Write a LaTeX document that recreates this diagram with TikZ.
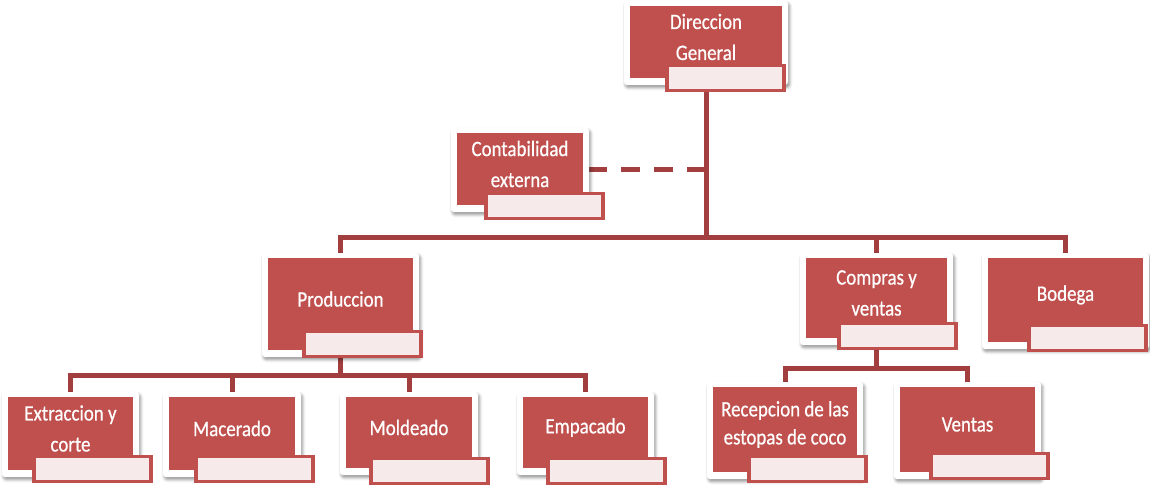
\documentclass[tikz,border=0pt]{standalone}
\usepackage{fontspec}
\setmainfont{Carlito}[FakeStretch=0.86, FakeBold=0.6]
\usetikzlibrary{shadows.blur,backgrounds}
\definecolor{boxred}{HTML}{C0504D}
\definecolor{linered}{HTML}{A23E3E}
\definecolor{labfill}{HTML}{F7EAEA}
\tikzset{
  frame/.style={fill=white, rounded corners=3pt,
    blur shadow={shadow xshift=1.5pt, shadow yshift=-2.5pt, shadow blur radius=3pt, shadow opacity=45}},
  redbox/.style={fill=boxred, inner sep=0pt, draw=none},
  labbox/.style={draw=boxred, line width=3.5pt, fill=labfill, inner sep=0pt},
  txt/.style={text=white, font=\fontsize{22}{31}\selectfont, align=center, inner sep=0pt},
  smalltxt/.style={font=\fontsize{22}{28}\selectfont},
  conn/.style={draw=linered, line width=5pt},
  dashconn/.style={draw=linered, line width=5pt, dash pattern=on 19pt off 14pt},
}
% [#1 text opts], #2 name, #3 x1, #4 y1, #5 x2, #6 y2 (red box), #7 label right, #8 label bottom, #9 text
\newcommand\orgunit[9][]{%
  \path[frame] ({#3-6},{#4-5}) rectangle ({#5+6},{#6+7});
  \node[redbox, minimum width={#5-#3}, minimum height={#6-#4}] (#2) at ({(#3+#5)/2},{(#4+#6)/2}) {};
  \node[labbox, minimum width=117, minimum height=25] (#2-l) at ({#7-60.5},{#8-14}) {};
  \node[txt,#1] (#2-t) at ([yshift=5pt]#2.center) {#9};
}
\begin{document}
\begin{tikzpicture}[x=1pt,y=-1pt]
\useasboundingbox (0,0) rectangle (1150,487);
\orgunit{dg}{630}{6}{782}{78}{786}{92}{Direccion\\General}
\orgunit{cont}{457}{133}{583}{205}{605}{220}{Contabilidad\\externa}
\orgunit{prod}{268}{258}{413}{350}{423}{358}{Produccion}
\orgunit{comp}{806}{258}{947}{338}{958}{350}{Compras y\\ventas}
\orgunit{bod}{988}{258}{1143}{342}{1148}{352}{Bodega}
\orgunit{ext}{8}{397}{133}{470}{153}{483}{Extraccion y\\corte}
\orgunit{mac}{169}{397}{295}{470}{315}{483}{Macerado}
\orgunit{mol}{346}{397}{472}{468}{490}{485}{Moldeado}
\orgunit{emp}{523}{397}{648}{468}{667}{485}{Empacado}
\orgunit[smalltxt]{rec}{713}{387}{857}{472}{868}{483}{Recepcion de las\\estopas de coco}
\orgunit{ven}{900}{387}{1035}{472}{1050}{480}{Ventas}
\coordinate (busa) at (0,237);
\coordinate (busb) at (0,375);
\coordinate (busc) at (0,368);
\begin{scope}[on background layer]
  \draw[conn] (dg.center) -- (dg.center |- busa);
  \draw[conn] (prod.center) |- (busa -| bod.center) -- (bod.center);
  \draw[conn] (comp.center) -- (comp.center |- busa);
  \draw[dashconn] ([xshift=5pt]cont.east) -- (cont.east -| dg.center);
  \draw[conn] (ext.center) |- (busb -| emp.center) -- (emp.center);
  \draw[conn] (prod.center) -- (prod.center |- busb);
  \draw[conn] (mac.center) -- (mac.center |- busb);
  \draw[conn] (mol.center) -- (mol.center |- busb);
  \draw[conn] (rec.center) |- (busc -| ven.center) -- (ven.center);
  \draw[conn] (comp.center) -- (comp.center |- busc);
\end{scope}
\end{tikzpicture}
\end{document}
